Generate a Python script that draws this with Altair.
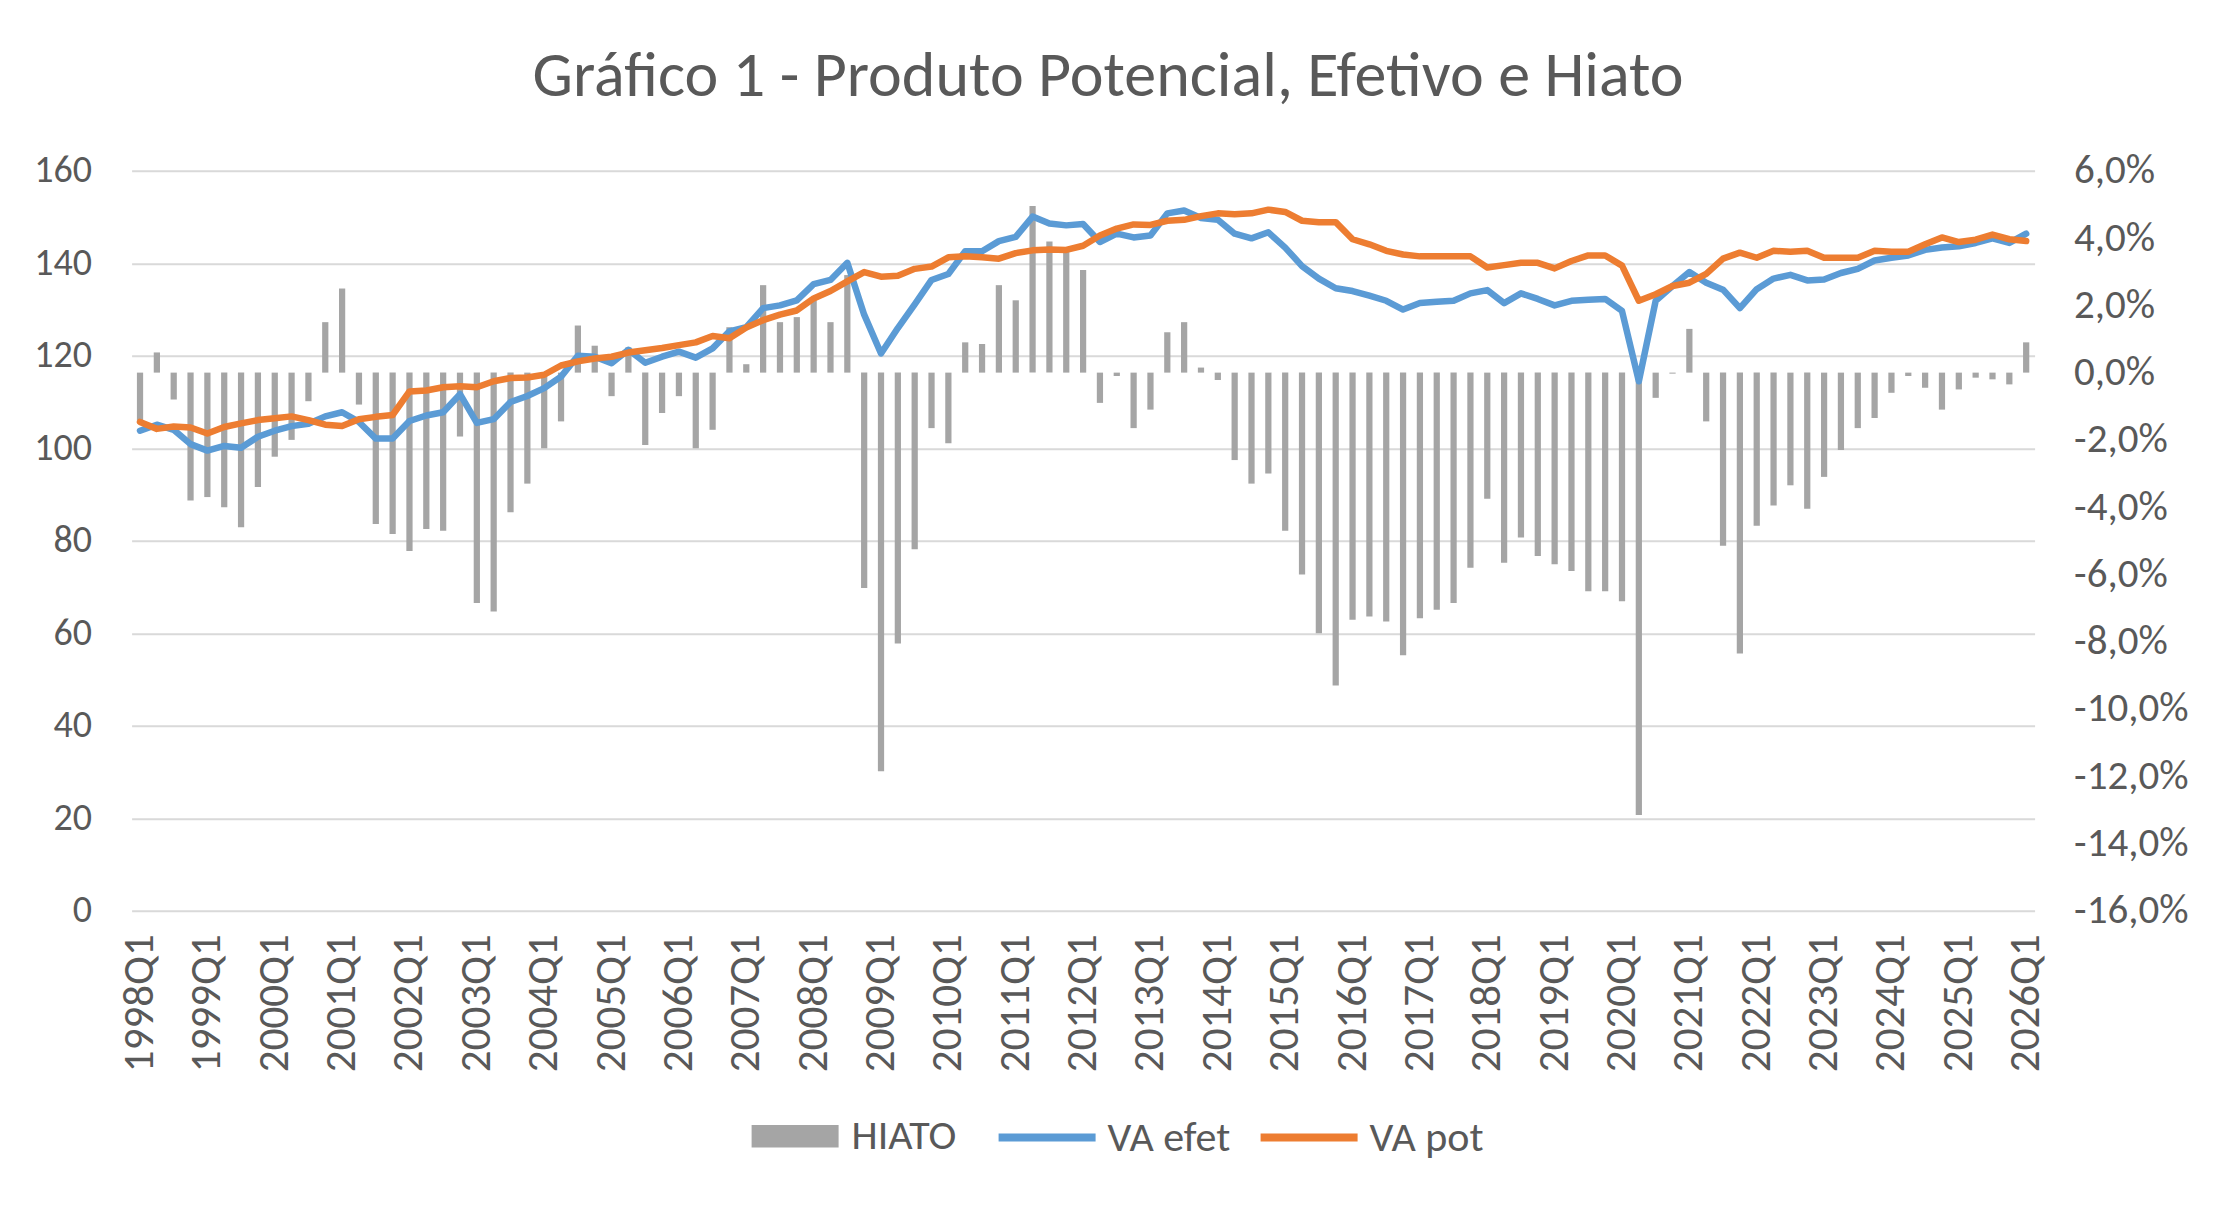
import altair as alt
import pandas as pd

# ---------------- data ----------------
years = list(range(1998, 2027))
quarters = [f"{y}Q{q}" for y in years for q in (1, 2, 3, 4)][:113]

hiato = [
    -1.5, 0.6, -0.8, -3.8, -3.7, -4.0, -4.6, -3.4, -2.5, -2.0,
    -0.85, 1.5, 2.5, -0.95, -4.5, -4.8, -5.3, -4.65, -4.7, -1.9,
    -6.85, -7.1, -4.15, -3.3, -2.25, -1.45, 1.4, 0.8, -0.7, 0.75,
    -2.15, -1.2, -0.7, -2.25, -1.7, 1.35, 0.25, 2.6, 1.5, 1.65,
    2.15, 1.5, 2.9, -6.4, -11.85, -8.05, -5.25, -1.65, -2.1, 0.9,
    0.85, 2.6, 2.15, 4.95, 3.9, 3.7, 3.05, -0.9, -0.1, -1.65,
    -1.1, 1.2, 1.5, 0.15, -0.22, -2.6, -3.3, -3.0, -4.7, -6.0,
    -7.75, -9.3, -7.35, -7.25, -7.4, -8.4, -7.3, -7.05, -6.85, -5.8,
    -3.75, -5.65, -4.9, -5.45, -5.7, -5.9, -6.5, -6.5, -6.8, -13.15,
    -0.75, -0.03, 1.3, -1.45, -5.15, -8.35, -4.55, -3.95, -3.35, -4.05,
    -3.1, -2.3, -1.65, -1.35, -0.6, -0.1, -0.45, -1.1, -0.5, -0.15,
    -0.2, -0.35, 0.9,
]

va_efet = [
    103.8, 105.1, 104.0, 100.9, 99.5, 100.5, 100.1, 102.5, 103.8, 104.8,
    105.3, 106.9, 107.8, 105.7, 102.1, 102.1, 105.9, 107.1, 107.8, 111.7,
    105.5, 106.3, 110.0, 111.3, 113.0, 115.5, 120.0, 119.8, 118.4, 121.3,
    118.5, 119.8, 120.9, 119.6, 121.6, 125.3, 126.2, 130.3, 130.9, 132.0,
    135.5, 136.4, 140.1, 128.9, 120.5, 126.0, 131.1, 136.4, 137.7, 142.6,
    142.6, 144.8, 145.7, 150.1, 148.6, 148.2, 148.5, 144.6, 146.4, 145.6,
    146.0, 150.8, 151.4, 149.8, 149.4, 146.4, 145.4, 146.7, 143.4, 139.4,
    136.7, 134.6, 134.0, 133.0, 131.9, 130.0, 131.4, 131.7, 131.9, 133.5,
    134.2, 131.4, 133.5, 132.3, 130.9, 131.9, 132.1, 132.3, 129.7, 114.5,
    131.9, 135.1, 138.1, 135.8, 134.3, 130.3, 134.4, 136.7, 137.5, 136.3,
    136.5, 137.9, 138.8, 140.6, 141.2, 141.7, 142.9, 143.4, 143.7, 144.4,
    145.4, 144.4, 146.4,
]

va_pot = [
    105.7, 104.2, 104.7, 104.5, 103.2, 104.6, 105.4, 106.1, 106.5, 106.9,
    106.1, 105.1, 104.8, 106.3, 106.8, 107.2, 112.3, 112.5, 113.2, 113.4,
    113.2, 114.5, 115.2, 115.3, 115.9, 117.9, 118.8, 119.4, 119.8, 120.7,
    121.2, 121.7, 122.3, 122.9, 124.3, 123.8, 126.1, 127.7, 128.9, 129.8,
    132.4, 134.0, 136.1, 138.1, 137.1, 137.3, 138.8, 139.3, 141.3, 141.5,
    141.3, 141.0, 142.2, 142.8, 143.0, 142.9, 143.8, 146.0, 147.5, 148.4,
    148.3, 149.2, 149.4, 150.2, 150.8, 150.6, 150.8, 151.6, 151.1, 149.2,
    148.9, 148.9, 145.2, 144.1, 142.7, 141.9, 141.5, 141.5, 141.5, 141.5,
    139.1, 139.6, 140.1, 140.1, 138.9, 140.5, 141.7, 141.7, 139.5, 131.9,
    133.3, 135.1, 135.8, 137.7, 141.0, 142.3, 141.2, 142.7, 142.5, 142.7,
    141.2, 141.2, 141.2, 142.7, 142.5, 142.5, 144.1, 145.6, 144.6, 145.1,
    146.2, 145.2, 144.8,
]

left_ticks = [0, 20, 40, 60, 80, 100, 120, 140, 160]
right_ticks = [-16, -14, -12, -10, -8, -6, -4, -2, 0, 2, 4, 6]
x_labels = [q for q in quarters if q.endswith("Q1")]

bar_names = ["HIATO"]
line_names = ["VA efet", "VA pot"]
bar_colors = ["#A5A5A5"]
line_colors = ["#5B9BD5", "#ED7D31"]

bars_df = pd.DataFrame({"q": quarters, "hiato": hiato, "serie": bar_names[0]})
lines_df = pd.DataFrame({
    "q": quarters + quarters,
    "valor": va_efet + va_pot,
    "serie": [line_names[0]] * len(quarters) + [line_names[1]] * len(quarters),
})

FONT = "Carlito, Calibri, Lato, sans-serif"
TXT = "#595959"
GRID = "#D9D9D9"

x_enc = alt.X(
    "q:N",
    sort=quarters,
    scale=alt.Scale(paddingInner=0.63, paddingOuter=0.315),
    axis=alt.Axis(
        values=x_labels,
        labelAngle=270,
        labelAlign="right",
        labelBaseline="middle",
        labelOverlap=False,
        labelPadding=23,
        labelFontSize=43,
        labelFont=FONT,
        labelColor=TXT,
        ticks=False,
        domain=False,
        grid=False,
        title=None,
    ),
)

bars = alt.Chart(bars_df).mark_bar(opacity=1).encode(
    x=x_enc,
    y=alt.Y(
        "hiato:Q",
        scale=alt.Scale(domain=[-16, 6], nice=False, zero=False),
        axis=alt.Axis(
            orient="right",
            values=right_ticks,
            labelExpr="(datum.value < 0 ? '-' : '') + replace(format(abs(datum.value), '.1f'), '.', ',') + '%'",
            labelFontSize=41,
            labelFont=FONT,
            labelColor=TXT,
            labelPadding=39,
            labelAlign="left",
            ticks=False,
            domain=False,
            grid=False,
            title=None,
        ),
    ),
    fill=alt.Fill(
        "serie:N",
        scale=alt.Scale(domain=bar_names, range=bar_colors),
        legend=alt.Legend(
            orient="none",
            legendX=620,
            legendY=922,
            direction="horizontal",
            title=None,
            symbolType="M-1,-0.26L1,-0.26L1,0.26L-1,0.26Z",
            symbolSize=7569,
            symbolStrokeWidth=0,
            symbolOpacity=1,
            labelFontSize=42,
            labelFont=FONT,
            labelColor=TXT,
            labelOffset=13,
            padding=0,
        ),
    ),
)

lines = alt.Chart(lines_df).mark_line(strokeWidth=6.5, strokeCap="round", strokeJoin="round").encode(
    x=alt.X("q:N", sort=quarters),
    y=alt.Y(
        "valor:Q",
        scale=alt.Scale(domain=[0, 160], nice=False, zero=True),
        axis=alt.Axis(
            orient="left",
            values=left_ticks,
            labelFontSize=38,
            labelFont=FONT,
            labelColor=TXT,
            labelPadding=40,
            ticks=False,
            domain=False,
            grid=True,
            gridColor=GRID,
            gridWidth=2,
            title=None,
        ),
    ),
    stroke=alt.Stroke(
        "serie:N",
        scale=alt.Scale(domain=line_names, range=line_colors),
        legend=alt.Legend(
            orient="none",
            legendX=863,
            legendY=914,
            direction="horizontal",
            title=None,
            symbolType="stroke",
            symbolSize=9409,
            symbolStrokeWidth=8,
            labelFontSize=42,
            labelFont=FONT,
            labelColor=TXT,
            labelOffset=8,
            columnPadding=14,
            padding=0,
        ),
    ),
)

chart = (
    alt.layer(bars, lines)
    .resolve_scale(y="independent", fill="independent", stroke="independent")
    .properties(
        width=1903,
        height=740,
        autosize=alt.AutoSizeParams(type="none"),
        padding={"left": 123.6, "top": 162.8, "right": 170, "bottom": 280},
        title=alt.TitleParams(
            "Gráfico 1 - Produto Potencial, Efetivo e Hiato",
            fontSize=64,
            font=FONT,
            fontWeight="normal",
            color=TXT,
            anchor="middle",
            baseline="alphabetic",
            offset=4,
            dx=25,
            dy=14,
        ),
        background="white",
    )
    .configure_view(stroke=None)
)

chart.save("out.html", embed_options={"renderer": "svg", "actions": False})
